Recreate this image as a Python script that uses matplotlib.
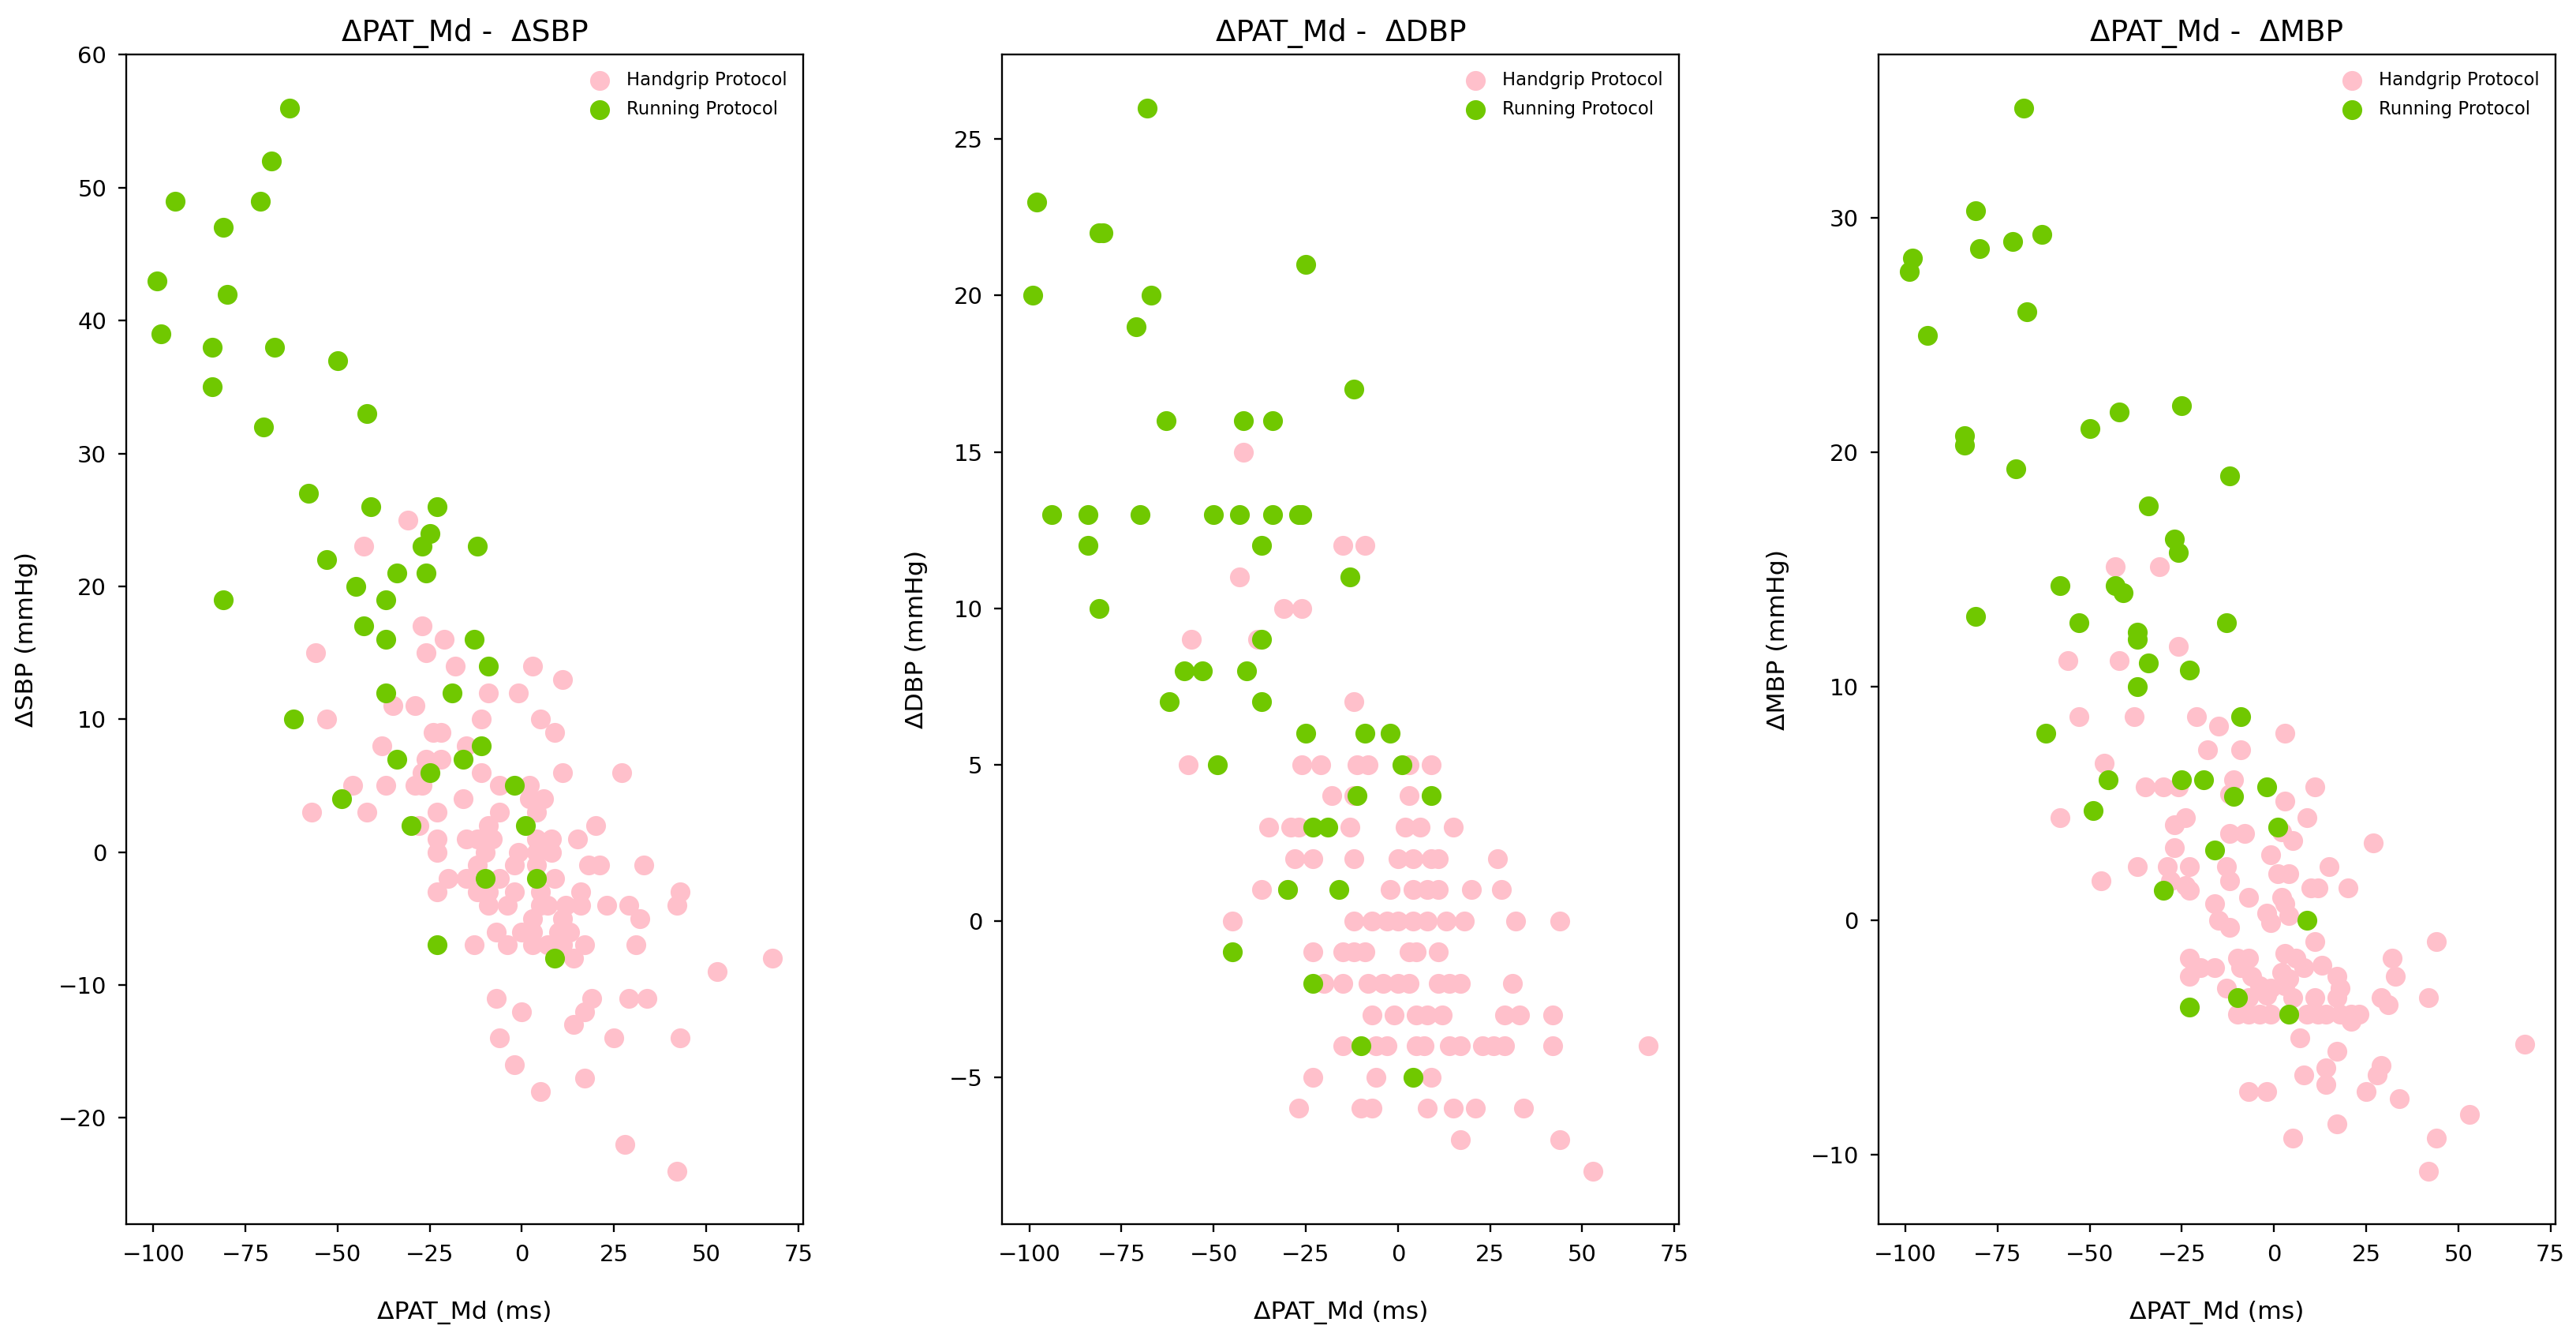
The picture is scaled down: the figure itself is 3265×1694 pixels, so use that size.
import matplotlib
matplotlib.use("Agg")
import matplotlib.pyplot as plt
from matplotlib.ticker import MultipleLocator

# running protocol (same subjects in every panel)
run_pat = [-63, -68, -94, -71, -81, -99, -80, -98, -84, -67,
           -50, -84, -42, -70, -58, -41, -23, -25, -27, -12,
           -53, -34, -26, -45, -37, -81, -43, -37, -13, -9,
           -37, -19, -62, -11, -34, -16, -25, -2, -49, -30,
           1, -10, 4, -23, 9]
run_sbp = [56, 52, 49, 49, 47, 43, 42, 39, 38, 38,
           37, 35, 33, 32, 27, 26, 26, 24, 23, 23,
           22, 21, 21, 20, 19, 19, 17, 16, 16, 14,
           12, 12, 10, 8, 7, 7, 6, 5, 4, 2,
           2, -2, -2, -7, -8]
run_dbp = [16, 26, 13, 19, 22, 20, 22, 23, 12, 20,
           13, 13, 16, 13, 8, 8, 3, 21, 13, 17,
           8, 16, 13, -1, 9, 10, 13, 7, 11, 6,
           12, 3, 7, 4, 13, 1, 6, 6, 5, 1,
           5, -4, -5, -2, 4]
run_mbp = [29.3, 34.7, 25.0, 29.0, 30.3, 27.7, 28.7, 28.3, 20.7, 26.0,
           21.0, 20.3, 21.7, 19.3, 14.3, 14.0, 10.7, 22.0, 16.3, 19.0,
           12.7, 17.7, 15.7, 6.0, 12.3, 13.0, 14.3, 10.0, 12.7, 8.7,
           12.0, 6.0, 8.0, 5.3, 11.0, 3.0, 6.0, 5.7, 4.7, 1.3,
           4.0, -3.3, -4.0, -3.7, 0.0]

# handgrip protocol, read per panel (one line per row of points)
grip_sbp_x = [-43, -31, -27, -21, -56, -26, -18, 3, 11, -9, -1, -35, -29,
              -53, -11, 5, -24, -22, 9, -38, -15, -26, -22,
              -27, -11, 11, 27,
              -46, -37, -29, -27, -6, 2,
              -16, 2, 6,
              -57, -42, -23, -6, 4,
              -28, -9, 20,
              -23, -15, -12, -8, 4, 8, 15,
              -23, -10, -1, 4, 8,
              -12, -2, 4, 18, 21, 33,
              -20, -15, -6, 9,
              -23, -12, -9, -2, 5, 16, 43,
              -9, -4, 5, 7, 12, 16, 23, 29, 42,
              3, 11, 32,
              -7, 0, 3, 10, 13,
              -13, -4, 3, 7, 11, 17, 31,
              14, 68, 53,
              -7, 19, 29, 34,
              0, 17, 14, -6, 25, 43, -2, 17, 5, 28, 42]
grip_sbp_y = [23, 25, 17, 16, 15, 15, 14, 14, 13, 12, 12, 11, 11,
              10, 10, 10, 9, 9, 9, 8, 8, 7, 7,
              6, 6, 6, 6,
              5, 5, 5, 5, 5, 5,
              4, 4, 4,
              3, 3, 3, 3, 3,
              2, 2, 2,
              1, 1, 1, 1, 1, 1, 1,
              0, 0, 0, 0, 0,
              -1, -1, -1, -1, -1, -1,
              -2, -2, -2, -2,
              -3, -3, -3, -3, -3, -3, -3,
              -4, -4, -4, -4, -4, -4, -4, -4, -4,
              -5, -5, -5,
              -6, -6, -6, -6, -6,
              -7, -7, -7, -7, -7, -7, -7,
              -8, -8, -9,
              -11, -11, -11, -11,
              -12, -12, -13, -14, -14, -14, -16, -17, -18, -22, -24]

grip_dbp_x = [-42, -15, -9, -43, -31, -26, -56, -38, -12,
              -57, -26, -21, -11, -8, 3, 9,
              -18, -12, 3,
              -35, -29, -27, -13, 2, 6, 15,
              -28, -23, -12, 0, 4, 9, 11, 27,
              -37, -30, -2, 4, 8, 11, 20, 28,
              -45, -12, -7, -3, 0, 4, 8, 13, 18, 32, 44,
              -23, -15, -12, -9, 3, 5, 11,
              -20, -15, -8, -4, 0, 3, 11, 14, 17, 31,
              -7, -1, 5, 8, 12, 29, 33, 42,
              -15, -6, -3, 5, 7, 14, 17, 23, 26, 29, 42, 68,
              -23, -6, 9,
              -27, -10, -7, 8, 15, 21, 34,
              17, 44, 53]
grip_dbp_y = [15, 12, 12, 11, 10, 10, 9, 9, 7,
              5, 5, 5, 5, 5, 5, 5,
              4, 4, 4,
              3, 3, 3, 3, 3, 3, 3,
              2, 2, 2, 2, 2, 2, 2, 2,
              1, 1, 1, 1, 1, 1, 1, 1,
              0, 0, 0, 0, 0, 0, 0, 0, 0, 0, 0,
              -1, -1, -1, -1, -1, -1, -1,
              -2, -2, -2, -2, -2, -2, -2, -2, -2, -2,
              -3, -3, -3, -3, -3, -3, -3, -3,
              -4, -4, -4, -4, -4, -4, -4, -4, -4, -4, -4, -4,
              -5, -5, -5,
              -6, -6, -6, -6, -6, -6, -6,
              -7, -7, -8]

grip_mbp_x = [-43, -31, -26, -56, -42, -53, -38, -21, -15, 3,
              -18, -9, -46, -11, -35, -30, -26, 11, -12, 3,
              -58, -24, -27, 9, 2, -12, -8, 5, 27, -27,
              -1, -37, -29, -23, -13, 15, 1, 4, -47, -28,
              -12, -24, 10, 12, 20, -23, -7, 2, -16, 3,
              -2, 4, -15, -1, -12, 11, 44, -23, -10, -7,
              3, 6, 32, -20, -16, -9, 8, 13, -23, -6,
              2, 4, 17, 33, -13, -4, -1, 3, 18, 11,
              29, 42, -7, -2, 5, 17, -10, -7, -4, -1,
              9, 12, 14, 18, 21, 23, 31, 21, 7, 68,
              17, 14, 29, 28, 8, 14, -7, -2, 25, 34,
              53, 17, 5, 44, 42]
grip_mbp_y = [15.1, 15.1, 11.7, 11.1, 11.1, 8.7, 8.7, 8.7, 8.3, 8.0,
              7.3, 7.3, 6.7, 6.0, 5.7, 5.7, 5.7, 5.7, 5.4, 5.1,
              4.4, 4.4, 4.1, 4.4, 3.8, 3.7, 3.7, 3.4, 3.3, 3.1,
              2.8, 2.3, 2.3, 2.3, 2.3, 2.3, 2.0, 2.0, 1.7, 1.7,
              1.7, 1.5, 1.4, 1.4, 1.4, 1.3, 1.0, 1.0, 0.7, 0.7,
              0.3, 0.2, 0.0, -0.1, -0.3, -0.9, -0.9, -1.6, -1.6, -1.6,
              -1.4, -1.6, -1.6, -2.0, -2.0, -2.0, -2.0, -1.9, -2.4, -2.4,
              -2.2, -2.5, -2.4, -2.4, -2.9, -2.8, -2.9, -2.8, -2.9, -3.3,
              -3.3, -3.3, -3.3, -3.2, -3.3, -3.3, -4.0, -4.0, -4.0, -4.0,
              -4.0, -4.0, -4.0, -4.0, -4.0, -4.0, -3.6, -4.3, -5.0, -5.3,
              -5.6, -6.3, -6.2, -6.6, -6.6, -7.0, -7.3, -7.3, -7.3, -7.6,
              -8.3, -8.7, -9.3, -9.3, -10.7]

names = ["SBP", "DBP", "MBP"]
grip_x = [grip_sbp_x, grip_dbp_x, grip_mbp_x]
grip_y = [grip_sbp_y, grip_dbp_y, grip_mbp_y]
run_y = [run_sbp, run_dbp, run_mbp]
ystep = [10, 5, 10]

pink = "#FFC0CB"
green = "#70C800"

fig, axes = plt.subplots(1, 3, figsize=(3265 / 210, 1694 / 210), dpi=210)
fig.subplots_adjust(left=0.049, right=0.992, bottom=0.0844, top=0.959, wspace=0.294)

for i, ax in enumerate(axes):
    ax.scatter(grip_x[i], grip_y[i], s=58, color=pink, label="Handgrip Protocol")
    ax.scatter(run_pat, run_y[i], s=58, color=green, label="Running Protocol")
    ax.set_title("\u0394PAT_Md -  \u0394" + names[i], fontsize=12.8)
    ax.set_xlabel("\u0394PAT_Md (ms)", fontsize=10.8, labelpad=15)
    ax.set_ylabel("\u0394" + names[i] + " (mmHg)", fontsize=10.8, labelpad=9)
    ax.xaxis.set_major_locator(MultipleLocator(25))
    ax.yaxis.set_major_locator(MultipleLocator(ystep[i]))
    ax.tick_params(labelsize=10, pad=5)
    ax.legend(loc="upper right", frameon=False, fontsize=7.8, scatterpoints=1,
              handletextpad=0.5, labelspacing=0.6)

fig.savefig("out.png", dpi=210)
